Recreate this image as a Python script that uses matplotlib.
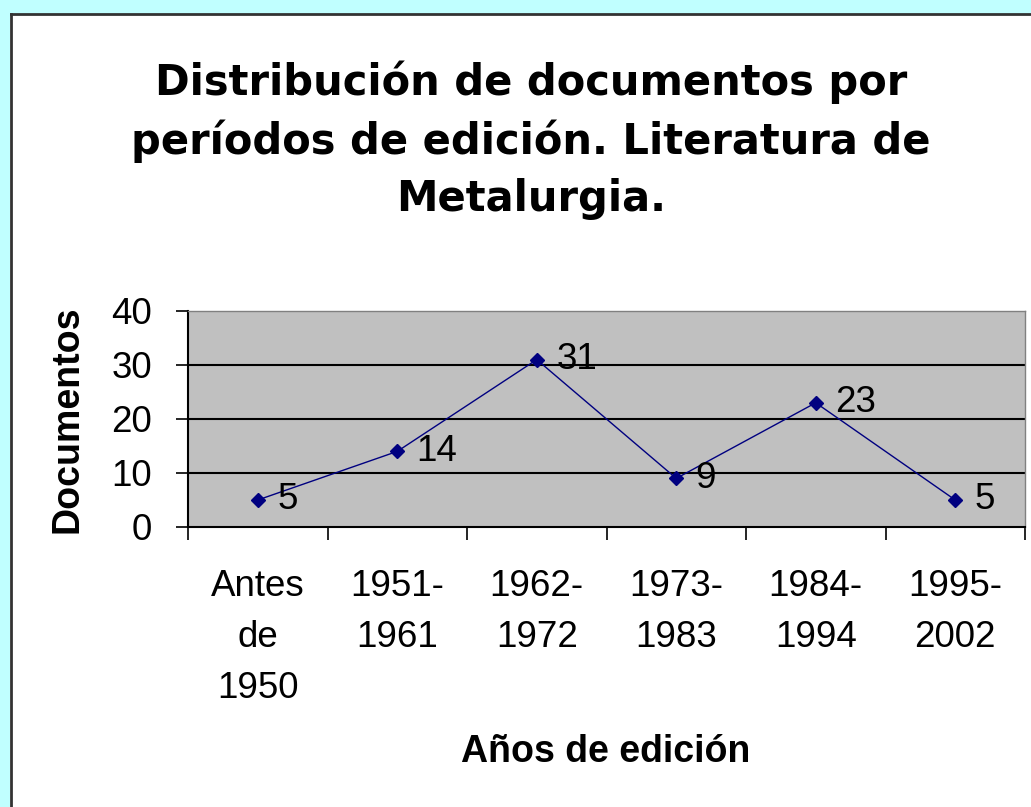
import matplotlib
matplotlib.use("Agg")
import matplotlib.pyplot as plt
from matplotlib.patches import Rectangle
import numpy as np

categories = ["Antes\nde\n1950", "1951-\n1961", "1962-\n1972", "1973-\n1983", "1984-\n1994", "1995-\n2002"]
values = [5, 14, 31, 9, 23, 5]
y_ticks = [0, 10, 20, 30, 40]
title = "Distribución de documentos por\nperíodos de edición. Literatura de\nMetalurgia."
x_label = "Años de edición"
y_label = "Documentos"

W, H = 1031, 807
plt.rcParams['font.family'] = ['Liberation Sans', 'DejaVu Sans']
fig = plt.figure(figsize=(W / 100, H / 100), dpi=100)
fig.patch.set_facecolor('#C0FFFF')

# white chart panel with dark border on left/top
fig.patches.append(Rectangle((10 / W, 0), (W - 10) / W, (H - 14) / H, transform=fig.transFigure,
                             facecolor='white', edgecolor='none', zorder=-5))
fig.add_artist(plt.Line2D([11 / W, 11 / W], [0, 1 - 14 / H], transform=fig.transFigure,
                          color='#333333', lw=2, zorder=-4))
fig.add_artist(plt.Line2D([11 / W, 1], [1 - 14 / H, 1 - 14 / H], transform=fig.transFigure,
                          color='#333333', lw=2, zorder=-4))

ax = fig.add_axes([188 / W, 1 - 527 / H, (1025 - 188) / W, (527 - 311) / H])
ax.set_zorder(1)
ax.set_facecolor('#C0C0C0')
x = np.arange(len(values))
ax.set_xlim(-0.5, len(values) - 0.5)
ax.set_ylim(0, 40)
ax.set_yticks(y_ticks)
for yv in y_ticks[1:-1]:
    ax.axhline(yv, color='black', lw=1.5, zorder=1)

ax.plot(x, values, color='#000080', lw=1, marker='D', markersize=7, zorder=3)
for xi, v in zip(x, values):
    ax.annotate(str(v), (xi, v), xytext=(14, 0), textcoords='offset points',
                ha='left', va='center', fontsize=26.5, color='black', zorder=4)

ax.set_xticks(x)
ax.set_xticklabels(categories, fontsize=26.5, linespacing=1.6)
ax.set_xticks(np.arange(-0.5, len(values)), minor=True)
ax.tick_params(axis='x', which='major', length=0, pad=30)
ax.tick_params(axis='x', which='minor', length=9, width=1.2, direction='out', color='black')
ax.tick_params(axis='y', length=9, width=1.2, direction='out', labelsize=26.5, pad=17)

for s in ['left', 'bottom']:
    ax.spines[s].set_color('black')
    ax.spines[s].set_linewidth(1.5)
for s in ['top', 'right']:
    ax.spines[s].set_color('#808080')
    ax.spines[s].set_linewidth(1)

fig.text(531 / W, 1 - 140 / H, title, ha='center', va='center', fontsize=30, fontweight='bold',
         family=['DejaVu Sans'], linespacing=1.45)
fig.text(606 / W, 1 - 752 / H, x_label, ha='center', va='center', fontsize=27, fontweight='bold')
fig.text(67 / W, 1 - 419 / H, y_label, ha='center', va='center', rotation=90, fontsize=27, fontweight='bold')

fig.savefig('out.png', dpi=100, facecolor=fig.get_facecolor())
